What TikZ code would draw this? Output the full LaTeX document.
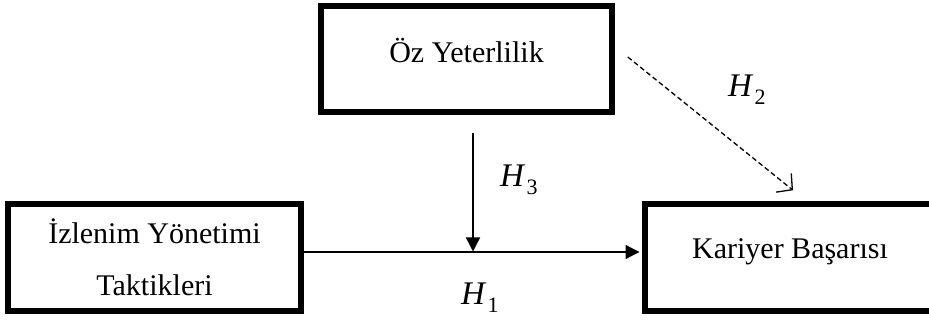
\documentclass[tikz,border=0pt]{standalone}
\usepackage{fontspec}
\setmainfont{Liberation Serif}
\usetikzlibrary{arrows.meta}
\newcommand{\hyplabel}[1]{\textit{H}\kern1pt\raisebox{-8pt}{\fontsize{22}{22}\selectfont #1}}
\begin{document}
\begin{tikzpicture}[x=1pt,y=-1pt,
 box/.style={draw,line width=5.5pt,rectangle,inner sep=0pt,font=\fontsize{30}{52}\selectfont,align=center},
 link/.style={line width=1.3pt},
 solidtip/.style={-{Triangle[length=14pt,width=14pt]}},
 barbtip/.style={-{Straight Barb[length=11pt,width=24pt,line width=1.3pt]}},
 hlabel/.style={font=\fontsize{33}{38}\selectfont,inner sep=0pt,anchor=base west}]
\useasboundingbox (0,0) rectangle (929,320);
\node[box,minimum width=291pt,minimum height=106pt,text height=20pt,text depth=12pt] (top) at (466.5,59) {Öz Yeterlilik};
\node[box,minimum width=293pt,minimum height=107pt] (left) at (154.5,257.5) {İzlenim Yönetimi\\Taktikleri};
\node[box,minimum width=290pt,minimum height=107pt,text height=19pt,text depth=16pt] (right) at (790,257.5) {Kariyer Başarısı};
% main path H1
\draw[link,solidtip,shorten >=2.75pt] ([yshift=5.5pt]left.east) -- ([yshift=5.5pt]right.west);
% moderator H3
\coordinate (h3s) at (473,133);
\coordinate (h3e) at (473,251.5);
\draw[link,solidtip] (h3s) -- (h3e);
% H2 dashed
\coordinate (h2s) at ([xshift=13pt,yshift=2pt]top.east);
\coordinate (h2e) at ([xshift=3pt,yshift=11pt]right.north);
\draw[link,dash pattern=on 5pt off 3pt,barbtip] (h2s) -- (h2e);
% labels
\node[hlabel] (lh1) at (461,305) {\hyplabel{1}};
\node[hlabel] (lh2) at (728,97) {\hyplabel{2}};
\node[hlabel] (lh3) at (500,187) {\hyplabel{3}};
\end{tikzpicture}
\end{document}
